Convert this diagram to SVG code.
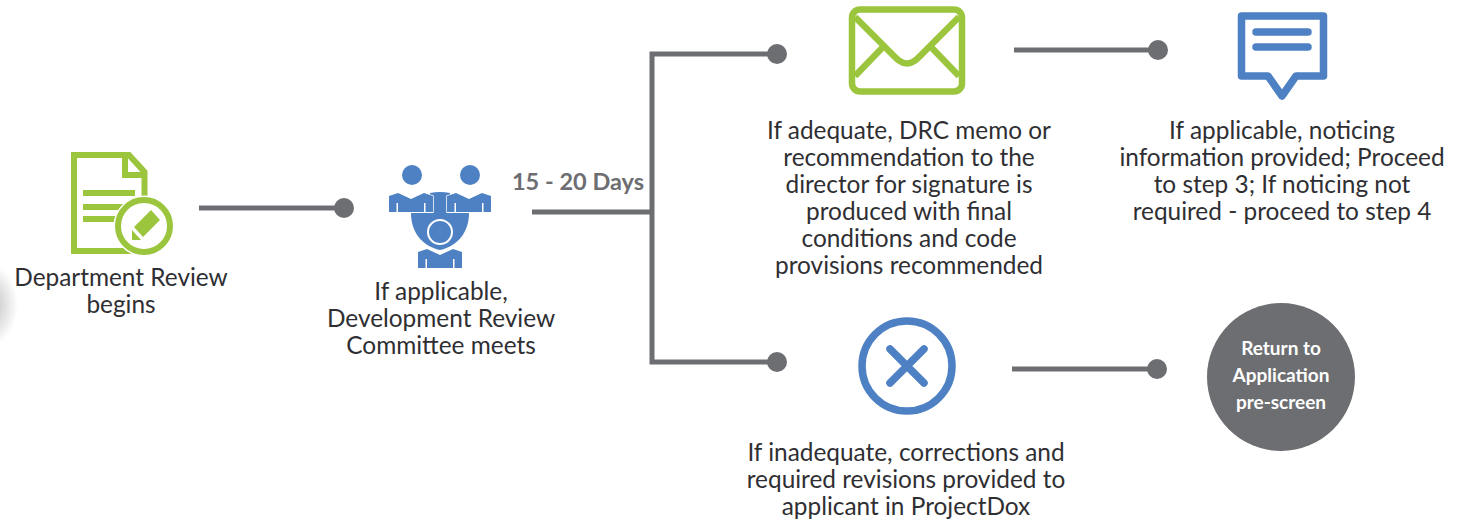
<svg xmlns="http://www.w3.org/2000/svg" width="1460" height="520" viewBox="0 0 1460 520">
<style>
text{font-family:"Lato","Open Sans","Liberation Sans",sans-serif;text-anchor:middle}
.t{font-size:24.400px;fill:#2f2f33}
.b{font-size:19px;font-weight:700;fill:#fff}
.d{font-size:23.500px;font-weight:700;fill:#6d6e71}
.c{fill:none;stroke:#6d6e71;stroke-width:5}
.dot{fill:#6d6e71}
.gs{fill:none;stroke:#9bc53d;stroke-width:6}
.bs{fill:none;stroke:#4d81c4;stroke-width:7.500;stroke-linecap:round;stroke-linejoin:round}
.bf{fill:#4d81c4}
.gf{fill:#9bc53d}
</style>
<defs>
<radialGradient id="sh"><stop offset="0" stop-color="#8a8a8a" stop-opacity=".6"/><stop offset="1" stop-color="#8a8a8a" stop-opacity="0"/></radialGradient>
<g id="torso"><path d="M0 19V3L9 0L22 6L35 0L44 3V19H36.500V10H35V19H9V10H7.500V19Z" class="bf" stroke="#fff" stroke-width="1.500" paint-order="stroke"/></g>
</defs>
<ellipse cx="-12" cy="305" rx="30" ry="42" fill="url(#sh)"/>
<g id="connectors">
<path class="c" d="M199 208H344M532 212H652M777 54H652V362H777M1014 50H1158M1012 369H1157"/>
<circle class="dot" cx="344" cy="208" r="10"/>
<circle class="dot" cx="777" cy="54" r="10"/>
<circle class="dot" cx="777" cy="362" r="10"/>
<circle class="dot" cx="1158" cy="50" r="10"/>
<circle class="dot" cx="1157" cy="369" r="10"/>
</g>
<g id="department-review">
<path class="gs" d="M74 155H129L144.500 172V251H74Z"/>
<path class="gs" d="M125 154V175H146"/>
<path class="gf" d="M83 190H135V196H83ZM83 204H135V210H83ZM83 216H135V222H83Z"/>
<circle cx="144" cy="226" r="26" fill="#fff" stroke="#fff" stroke-width="9"/>
<circle cx="144" cy="226" r="26" class="gs"/>
<path class="gf" d="M151 210L160 220L143 237L134 227ZM132 230L141 240L132 240Z"/>
<text class="t" x="121" y="286">Department Review</text>
<text class="t" x="121" y="313">begins</text>
</g>
<g id="development-review">
<circle class="bf" cx="412" cy="175" r="10"/>
<circle class="bf" cx="470" cy="175" r="10"/>
<path class="bf" d="M430 193Q440 191 450 193V197Q447 201 447 213H469C469 232 458 246 440 250C422 246 411 232 411 213H433Q433 201 430 197Z"/>
<use href="#torso" x="389" y="193"/>
<use href="#torso" x="447" y="193"/>
<use href="#torso" x="418" y="249"/>
<circle class="bf" cx="440" cy="232" r="12" stroke="#fff" stroke-width="2"/>
<text class="t" x="441" y="300">If applicable,</text>
<text class="t" x="441" y="327">Development Review</text>
<text class="t" x="441" y="354">Committee meets</text>
</g>
<g id="days"><text class="d" x="578" y="190">15 - 20 Days</text></g>
<g id="memo">
<rect x="852" y="9.500" width="110" height="82" rx="8" fill="none" stroke="#9bc53d" stroke-width="6.500"/>
<path d="M855 17L886 48C896 58 900 63.500 907 63.500C914 63.500 918 58 928 48L959 17M884 46L855 76M930 46L959 76" fill="none" stroke="#9bc53d" stroke-width="6.500"/>
<text class="t" x="909" y="139">If adequate, DRC memo or</text>
<text class="t" x="909" y="166">recommendation to the</text>
<text class="t" x="909" y="193">director for signature is</text>
<text class="t" x="909" y="220">produced with final</text>
<text class="t" x="909" y="247">conditions and code</text>
<text class="t" x="909" y="274">provisions recommended</text>
</g>
<g id="notice">
<path class="bs" d="M1241.500 16H1323.500V76H1296L1282 96L1268 76H1241.500Z"/>
<path class="bs" d="M1256 32H1308M1256 47H1308"/>
<text class="t" x="1282" y="139">If applicable, noticing</text>
<text class="t" x="1282" y="166">information provided; Proceed</text>
<text class="t" x="1282" y="193">to step 3; If noticing not</text>
<text class="t" x="1282" y="220">required - proceed to step 4</text>
</g>
<g id="inadequate">
<circle class="bs" cx="907" cy="366" r="45"/>
<path class="bs" d="M890 349L924 383M924 349L890 383"/>
<text class="t" x="906" y="461">If inadequate, corrections and</text>
<text class="t" x="906" y="488">required revisions provided to</text>
<text class="t" x="906" y="515">applicant in ProjectDox</text>
</g>
<g id="return">
<circle class="dot" cx="1281" cy="377" r="74"/>
<text class="b" x="1281" y="355">Return to</text>
<text class="b" x="1281" y="382">Application</text>
<text class="b" x="1281" y="409">pre-screen</text>
</g>
</svg>
